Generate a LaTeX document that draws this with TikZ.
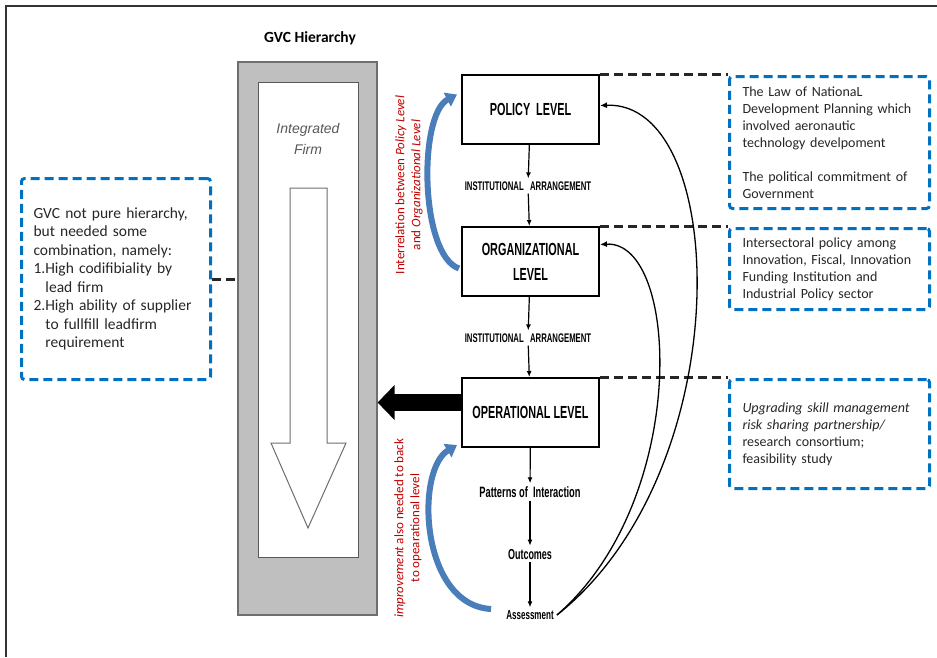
\documentclass[tikz,border=0pt]{standalone}
\usepackage{fontspec}
\setmainfont{Carlito}
\newfontfamily\condfont[FakeStretch=0.62]{Liberation Sans}
\newfontfamily\arialfont{Liberation Sans}
\definecolor{gvcGray}{RGB}{191,191,191}
\definecolor{gvcEdge}{RGB}{110,110,110}
\definecolor{noteBlue}{RGB}{0,112,192}
\definecolor{curveBlue}{RGB}{74,126,187}
\definecolor{noteRed}{RGB}{192,0,0}
\definecolor{dashGray}{RGB}{38,38,38}
\usetikzlibrary{shapes,arrows.meta,positioning,calc}

\begin{document}
\begin{tikzpicture}[x=1pt,y=-1pt,
        level/.style={draw=black,line width=2pt,fill=white,minimum width=137pt,minimum height=69pt,
                     inner sep=0pt,align=center,font=\condfont\bfseries\fontsize{17.5}{25}\selectfont},
        flowtext/.style={inner sep=3pt,font=\condfont\bfseries\fontsize{12.5}{14}\selectfont},
        note/.style={draw=noteBlue,line width=3pt,dash pattern=on 9pt off 5pt,rounded corners=3pt,
                     anchor=north west,align=left,inner xsep=13pt,inner ysep=0pt,text width=174pt,
                     text=black!85,font=\fontsize{14}{17}\selectfont},
        tie/.style={draw=dashGray,line width=3pt,dash pattern=on 9pt off 5pt},
        down/.style={-{Latex[length=6pt,width=5pt]},line width=1.2pt},
        backarrow/.style={-{Latex[length=7pt,width=6pt]},line width=1.3pt},
        bluecurve/.style={-{Triangle[length=11pt,width=15pt]},line width=6pt,draw=curveBlue},
        redtext/.style={rotate=90,align=center,text=noteRed,font=\fontsize{13}{16}\selectfont}
    ]
        \useasboundingbox (0,0) rectangle (937,657);
        % frame
        \draw[line width=1.5pt,black!80] (937,6) -- (6,6) -- (6,657);

        % GVC hierarchy column
        \node[font=\bfseries\fontsize{15.5}{18}\selectfont] (title) at (310,38) {GVC Hierarchy};
        \node[fill=gvcGray,draw=gvcEdge,line width=1.2pt,minimum width=139pt,minimum height=553pt] (gvc) at (307.5,338.5) {};
        \node[fill=white,draw=gvcEdge!80!black,line width=1pt,minimum width=100pt,minimum height=475pt] (firm) at (308,319.5) {};
        \node[align=center,text=black!65,font=\arialfont\itshape\fontsize{14}{21}\selectfont] (firmtext) at (308,138.5) {Integrated\\Firm};
        \draw[draw=gvcEdge,line width=1pt,fill=white] (290,188) -- (327,188) -- (327,443) -- (346,443)
            -- (308,528) -- (271,443) -- (290,443) -- cycle;

        % levels
        \node[level] (policy) at (530.5,109.5) {POLICY\, LEVEL};
        \node[flowtext] (inst1) at (528,186) {INSTITUTIONAL\,\, ARRANGEMENT};
        \node[level] (org) at (530.5,261.5) {ORGANIZATIONAL\\LEVEL};
        \node[flowtext] (inst2) at (528,338) {INSTITUTIONAL\,\, ARRANGEMENT};
        \node[level] (op) at (530.5,412.5) {OPERATIONAL LEVEL};
        \node[flowtext,font=\condfont\bfseries\fontsize{15}{17}\selectfont] (pat) at (530,492) {Patterns of\, Interaction};
        \node[flowtext,font=\condfont\bfseries\fontsize{14.5}{16}\selectfont] (outc) at (530,554) {Outcomes};
        \node[flowtext,font=\condfont\bfseries\fontsize{13}{15}\selectfont] (ass) at (530,615) {Assessment};

        \draw[down] (policy) -- (inst1);
        \draw[down] (inst1) -- (org);
        \draw[down] (org) -- (inst2);
        \draw[down] (inst2) -- (op);
        \draw[down] (op) -- (pat);
        \draw[down] (pat) -- (outc);
        \draw[down] (outc) -- (ass);

        % notes
        \node[note,minimum height=132pt] (lawnote) at (728,75) {The Law of NationaL\\
            Development Planning which\\ involved aeronautic\\ technology develpoment\\[17pt]
            The political commitment of\\ Government};
        \node[note,minimum height=81pt] (secnote) at (728,227) {Intersectoral policy among\\
            Innovation, Fiscal, Innovation\\ Funding Institution and\\ Industrial Policy sector};
        \node[note,minimum height=109pt] (opnote) at (728,378) {\textit{Upgrading skill management}\\
            \textit{risk sharing partnership/}\\ research consortium;\\ feasibility study};
        \node[note,minimum height=201pt,text width=165pt,inner xsep=12pt,font=\fontsize{15.5}{18.5}\selectfont] (gvcnote) at (20,177) {GVC not pure hierarchy,\\
            but needed some\\ combination, namely:\\ 1.High codifibiality by\\ \hspace*{12pt}lead firm\\
            2.High ability of supplier\\ \hspace*{12pt}to fullfill leadfirm\\ \hspace*{12pt}requirement};

        \draw[tie] (policy.north east) -- (policy.north east -| lawnote.west);
        \draw[tie] (org.north east) -- (org.north east -| secnote.west);
        \draw[tie] (op.north east) -- (op.north east -| opnote.west);
        \draw[tie] (gvcnote.east) -- (gvcnote.east -| gvc.west);

        % feedback
        \coordinate (opl) at ([yshift=10pt]op.west);
        \draw[line width=17pt,-{Triangle[width=34pt,length=17pt]}] (opl) -- (opl -| gvc.east);
        \draw[backarrow] (ass.east) .. controls (740,470) and (730,100) .. ([yshift=4pt]policy.east);
        \draw[backarrow] (ass.east) .. controls (690,500) and (680,240) .. ([yshift=17pt]org.east);
        \draw[bluecurve] ([xshift=-2pt,yshift=-7pt]org.west) .. controls (420,255) and (418,115) .. ([xshift=-4pt,yshift=15pt]policy.west);
        \draw[bluecurve] ([xshift=-12pt,yshift=6pt]ass.west) .. controls (420,605) and (415,470) .. ([xshift=-4pt,yshift=3pt]op.south west);

        \node[redtext] (interrel) at (409,185) {Interrelation between \textit{Policy Level}\\and \textit{Organizational Level}};
        \node[redtext] (improve) at (408,528) {\textit{improvement} also needed to back\\to opearational level};
    \end{tikzpicture}
\end{document}
